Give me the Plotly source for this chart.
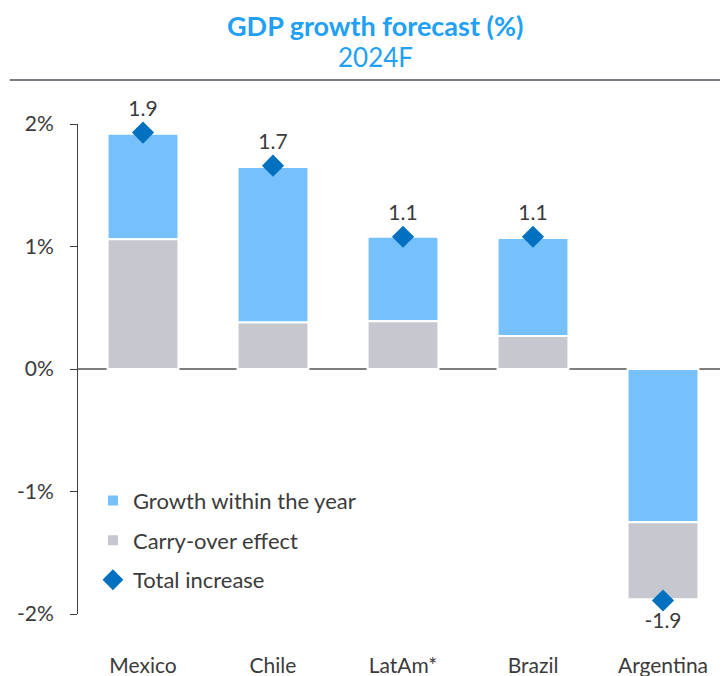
import plotly.graph_objects as go

countries = ["Mexico", "Chile", "LatAm*", "Brazil", "Argentina"]
carry_over = [1.06, 0.38, 0.39, 0.27, -0.63]
growth_within = [0.86, 1.27, 0.69, 0.80, -1.25]
total_increase = [1.93, 1.66, 1.08, 1.08, -1.89]
y_ticks = [-2, -1, 0, 1, 2]
y_tick_labels = ["-2%", "-1%", "0%", "1%", "2%"]

FONT = "Lato, 'Open Sans', sans-serif"
TEXT_COLOR = "#3b3b3b"
TITLE_BLUE = "#21a0f6"

# segment nearest to zero sits at the bottom: carry-over for gains, growth for Argentina
growth_base = [c if c >= 0 else 0 for c in carry_over]
carry_base = [0 if c >= 0 else g for c, g in zip(carry_over, growth_within)]

fig = go.Figure()
fig.add_trace(
    go.Bar(
        x=countries,
        y=growth_within,
        base=growth_base,
        name="Growth within the year",
        marker={"color": "#76c1fb", "line": {"color": "white", "width": 2}},
        width=0.545,
        legendgroup="g1",
    )
)
fig.add_trace(
    go.Bar(
        x=countries,
        y=carry_over,
        base=carry_base,
        name="Carry-over effect",
        marker={"color": "#c6c7cf", "line": {"color": "white", "width": 2}},
        width=0.545,
        legendgroup="g2",
    )
)
fig.add_trace(
    go.Scatter(
        x=countries,
        y=total_increase,
        mode="markers+text",
        name="Total increase",
        marker={"symbol": "diamond", "size": 17, "color": "#0070c0"},
        text=[f"{v:.1f}" for v in total_increase],
        textposition=["top center" if v >= 0 else "bottom center" for v in total_increase],
        textfont={"size": 21, "color": TEXT_COLOR, "family": FONT},
        cliponaxis=False,
        legendgroup="g3",
    )
)

# title and subtitle sit above the rule, placed in paper coordinates
heading = [
    ("<b>GDP growth forecast (%)</b>", 25, 27),
    ("2024F", 57, 26),
]
annotations = [
    {
        "text": txt,
        "xref": "paper",
        "yref": "paper",
        "x": (375 - 78) / 650,
        "y": (614 - y_px) / 490,
        "xanchor": "center",
        "yanchor": "middle",
        "showarrow": False,
        "font": {"size": size, "color": TITLE_BLUE, "family": FONT},
    }
    for txt, y_px, size in heading
]

fig.update_layout(
    width=728,
    height=676,
    margin={"l": 70, "r": 8, "t": 116, "b": 70},
    paper_bgcolor="white",
    plot_bgcolor="white",
    barmode="overlay",
    font={"family": FONT, "color": TEXT_COLOR, "size": 21},
    annotations=annotations,
    shapes=[
        {
            "type": "line",
            "xref": "paper",
            "yref": "paper",
            "x0": -0.105,
            "x1": 1,
            "y0": 1.09,
            "y1": 1.09,
            "line": {"color": "#7a7a82", "width": 2},
        }
    ],
    xaxis={
        "showgrid": False,
        "showline": False,
        "ticks": "",
        "ticklabelstandoff": 37,
        "tickfont": {"size": 21, "color": TEXT_COLOR},
        "range": [-0.5, 4.5],
    },
    yaxis={
        "range": [-2, 2],
        "tickvals": y_ticks,
        "ticktext": y_tick_labels,
        "showgrid": False,
        "showline": True,
        "linecolor": "#404040",
        "linewidth": 1,
        "ticks": "outside",
        "ticklen": 7,
        "tickcolor": "#404040",
        "ticklabelstandoff": 12,
        "zeroline": True,
        "zerolinecolor": "#7f7f7f",
        "zerolinewidth": 1.5,
        "tickfont": {"size": 21, "color": TEXT_COLOR},
    },
    showlegend=True,
    legend={
        "x": 0.023,
        "y": 0.274,
        "xanchor": "left",
        "yanchor": "top",
        "traceorder": "grouped",
        "tracegroupgap": 8,
        "font": {"size": 22, "color": TEXT_COLOR},
        "bgcolor": "rgba(0,0,0,0)",
    },
)

fig.write_html("out.html")
